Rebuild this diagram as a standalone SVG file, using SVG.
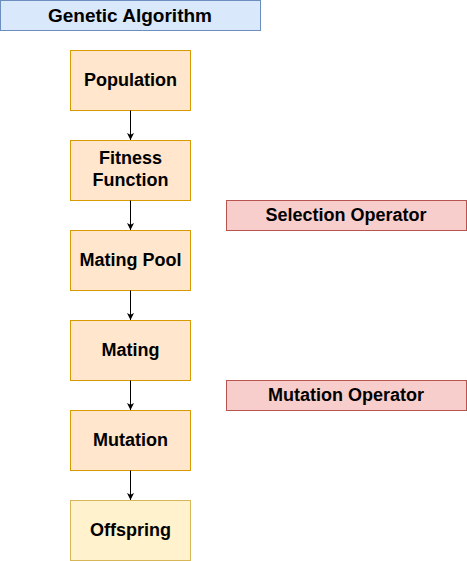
<svg xmlns="http://www.w3.org/2000/svg" width="467" height="561" viewBox="0 0 467 561">
<defs>
<style>
text{font-family:"Liberation Sans",Arial,Helvetica,sans-serif;font-weight:bold;font-size:18px;fill:#000;text-anchor:middle}
.blue{fill:#dae8fc;stroke:#6c8ebf}
.orange{fill:#ffe6cc;stroke:#d79b00}
.yellow{fill:#fff2cc;stroke:#d6b656}
.red{fill:#f8cecc;stroke:#b85450}
.edge{stroke:#000;stroke-width:1;fill:none}
</style>
<marker id="arr" viewBox="0 0 10 10" refX="10" refY="5" markerWidth="7" markerHeight="7" markerUnits="userSpaceOnUse" orient="auto">
<path d="M0,0 L10,5 L0,10 L2.5,5 Z" fill="#000"/>
</marker>
</defs>
<rect width="467" height="561" fill="#fff"/>
<g id="title"><rect class="blue" x="0.5" y="0.5" width="260" height="30"/><text x="130" y="21.5" style="font-size:19px">Genetic Algorithm</text></g>
<g id="population"><rect class="orange" x="70.5" y="50.5" width="120" height="60"/><text x="130.5" y="86">Population</text></g>
<g id="fitness"><rect class="orange" x="70.5" y="140.5" width="120" height="60"/><text x="130.5" y="164">Fitness</text><text x="130.5" y="186">Function</text></g>
<g id="matingpool"><rect class="orange" x="70.5" y="230.5" width="120" height="60"/><text x="130.5" y="266">Mating Pool</text></g>
<g id="mating"><rect class="orange" x="70.5" y="320.5" width="120" height="60"/><text x="130.5" y="356">Mating</text></g>
<g id="mutation"><rect class="orange" x="70.5" y="410.5" width="120" height="60"/><text x="130.5" y="446">Mutation</text></g>
<g id="offspring"><rect class="yellow" x="70.5" y="500.5" width="120" height="60"/><text x="130.5" y="536">Offspring</text></g>
<g id="selection"><rect class="red" x="226.5" y="200.5" width="240" height="30"/><text x="346" y="221">Selection Operator</text></g>
<g id="mutationop"><rect class="red" x="226.5" y="380.5" width="240" height="30"/><text x="346" y="401">Mutation Operator</text></g>
<g id="connectors">
<line class="edge" x1="130.5" y1="110.5" x2="130.5" y2="140" marker-end="url(#arr)"/>
<line class="edge" x1="130.5" y1="200.5" x2="130.5" y2="230" marker-end="url(#arr)"/>
<line class="edge" x1="130.5" y1="290.5" x2="130.5" y2="320" marker-end="url(#arr)"/>
<line class="edge" x1="130.5" y1="380.5" x2="130.5" y2="410" marker-end="url(#arr)"/>
<line class="edge" x1="130.5" y1="470.5" x2="130.5" y2="500" marker-end="url(#arr)"/>
</g>
</svg>
